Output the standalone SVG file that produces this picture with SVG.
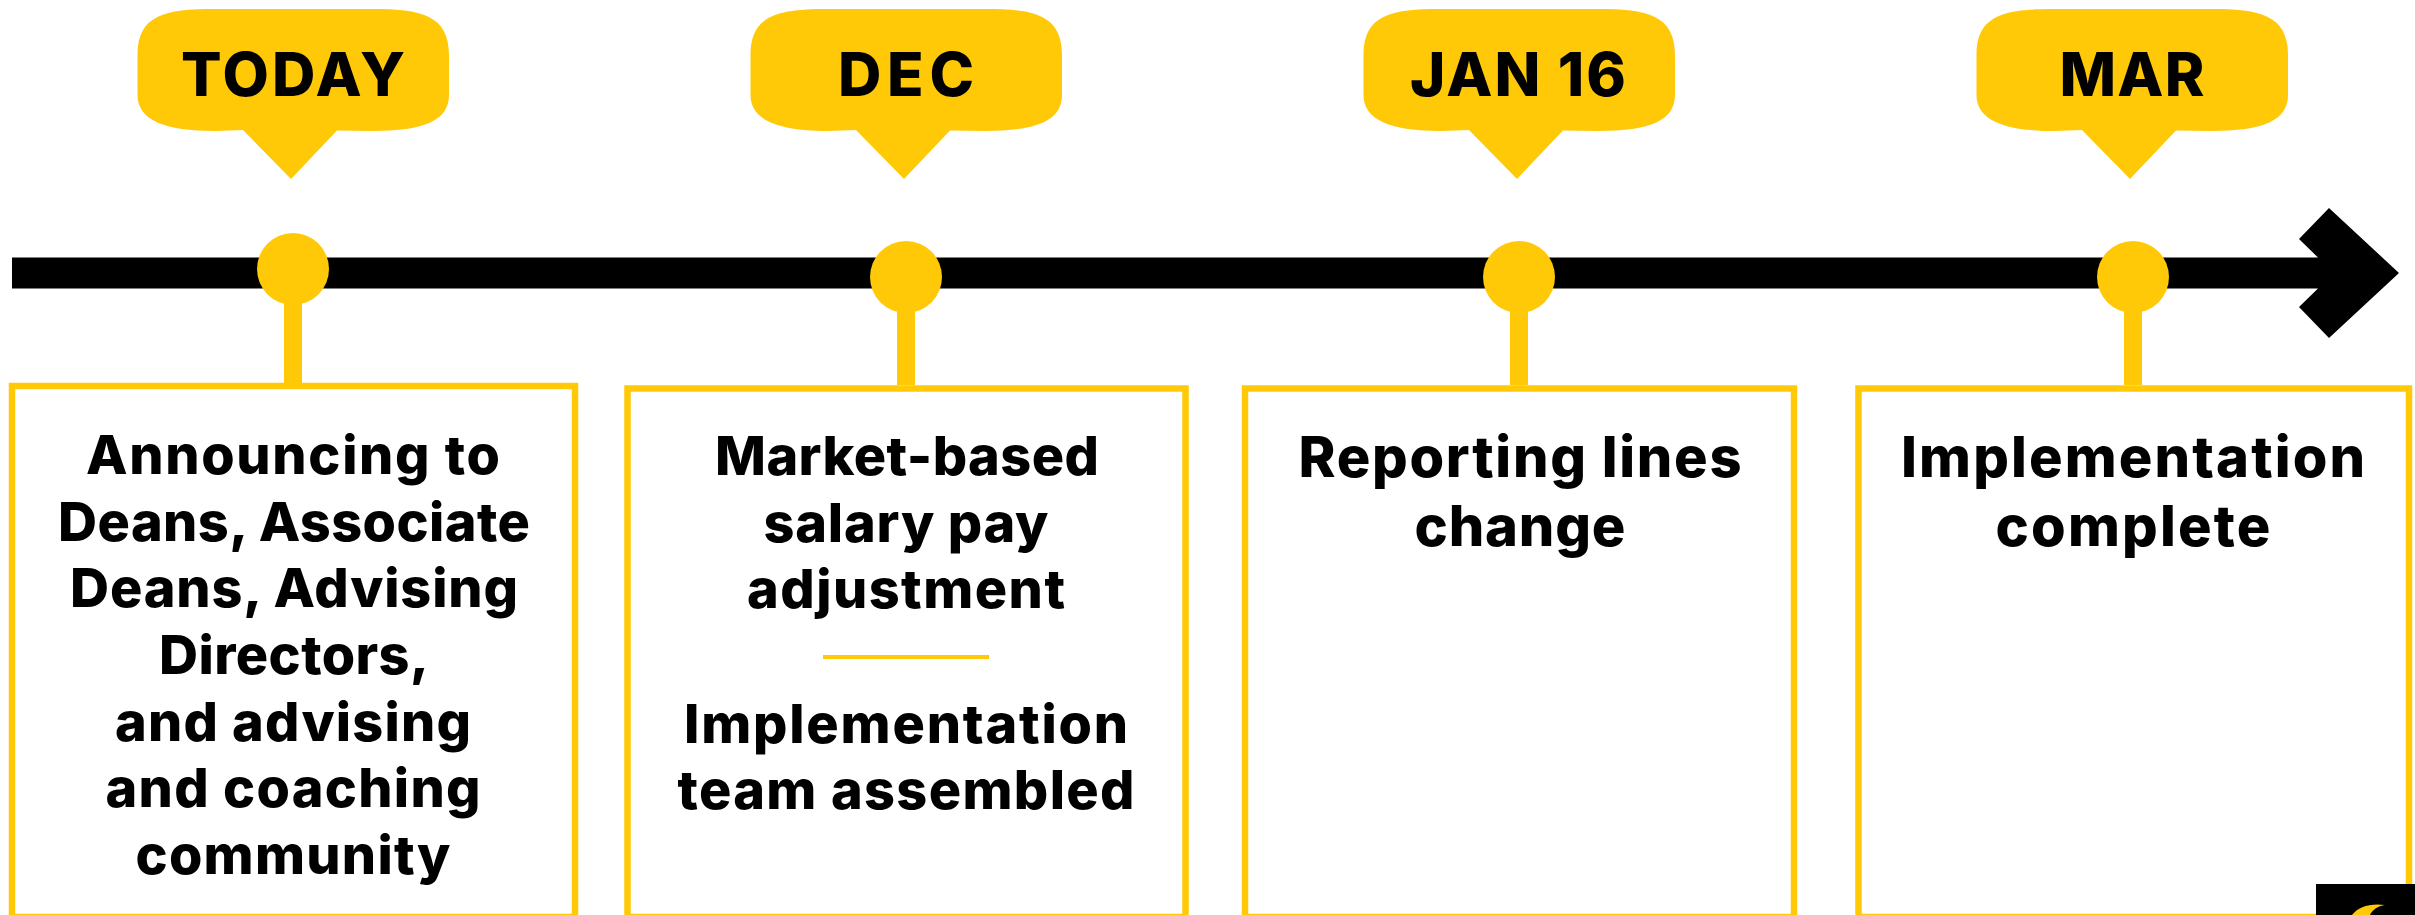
<svg xmlns="http://www.w3.org/2000/svg" width="2415" height="915" viewBox="0 0 2415 915">
<style>
.y{fill:#ffc907}
.box{fill:#fff;stroke:#ffc907;stroke-width:6.5}
.b{font-family:"Inter","Liberation Sans",sans-serif;font-weight:800;font-size:54px;text-anchor:middle;fill:#000}
.l{font-size:56px}
.h{font-family:"Inter","Liberation Sans",sans-serif;font-weight:800;font-size:60px;text-anchor:middle;fill:#000}
</style>
<defs>
<path id="bubble" class="y" d="M137.500 55C137.500 15 165 9 215 9H372C421 9 449 15 449 55V95C449 120 425 131 372 131L337 130.500L291 179L243 130L215 131C165 131 137.500 120 137.500 95Z"/>
</defs>
<rect width="2415" height="915" fill="#fff"/>
<g id="connectors">
<path id="axis" d="M12 257.500H2318L2299 239L2329 208L2399 273L2329 338L2299 307L2318 288.500H12Z" fill="#000"/>
<rect class="y" x="284" y="300" width="18" height="85"/>
<rect class="y" x="897" y="310" width="18" height="75"/>
<rect class="y" x="1510" y="310" width="18" height="75"/>
<rect class="y" x="2124" y="310" width="18" height="75"/>
</g>
<g id="today">
<use href="#bubble"/>
<text class="h" x="293" y="96" textLength="224">TODAY</text>
<circle class="y" cx="293" cy="269" r="36"/>
<rect class="box" x="12" y="386" width="563" height="531"/>
<text class="b" x="293" y="474" textLength="414">Announcing to</text>
<text class="b" x="294" y="541" textLength="472">Deans, Associate</text>
<text class="b" x="294" y="607" textLength="448">Deans, Advising</text>
<text class="b" x="294" y="674" textLength="270">Directors,</text>
<text class="b" x="293" y="741" textLength="356">and advising</text>
<text class="b" x="293" y="807" textLength="375">and coaching</text>
<text class="b" x="293" y="874" textLength="315">community</text>
</g>
<g id="dec">
<use href="#bubble" x="613"/>
<text class="h" x="906" y="96" textLength="136">DEC</text>
<circle class="y" cx="906" cy="277" r="36"/>
<rect class="box" x="627.500" y="388.500" width="558" height="528.500"/>
<text class="b" x="907" y="475" textLength="384">Market-based</text>
<text class="b" x="906" y="542" textLength="285">salary pay</text>
<text class="b" x="906" y="608" textLength="318">adjustment</text>
<rect class="y" x="823" y="655" width="166" height="4"/>
<text class="b" x="906" y="743" textLength="444">Implementation</text>
<text class="b" x="906" y="809" textLength="457">team assembled</text>
</g>
<g id="jan16">
<use href="#bubble" x="1226"/>
<text class="h" x="1518" y="96" textLength="216">JAN 16</text>
<circle class="y" cx="1519" cy="277" r="36"/>
<rect class="box" x="1245" y="388.500" width="549" height="528.500"/>
<text class="b l" x="1520" y="477" textLength="443">Reporting lines</text>
<text class="b l" x="1520" y="546" textLength="211">change</text>
</g>
<g id="mar">
<use href="#bubble" x="1839"/>
<text class="h" x="2132" y="96" textLength="145">MAR</text>
<circle class="y" cx="2133" cy="277" r="36"/>
<rect class="box" x="1858.500" y="388.500" width="550.500" height="528.500"/>
<text class="b l" x="2133" y="477" textLength="464">Implementation</text>
<text class="b l" x="2133" y="546" textLength="275">complete</text>
</g>
<g id="logo">
<rect x="2316" y="884" width="99" height="31" fill="#000"/>
<path class="y" d="M2352 915C2358 907 2370 903 2385 905C2378 906 2372 910 2370 915Z"/>
</g>
</svg>
